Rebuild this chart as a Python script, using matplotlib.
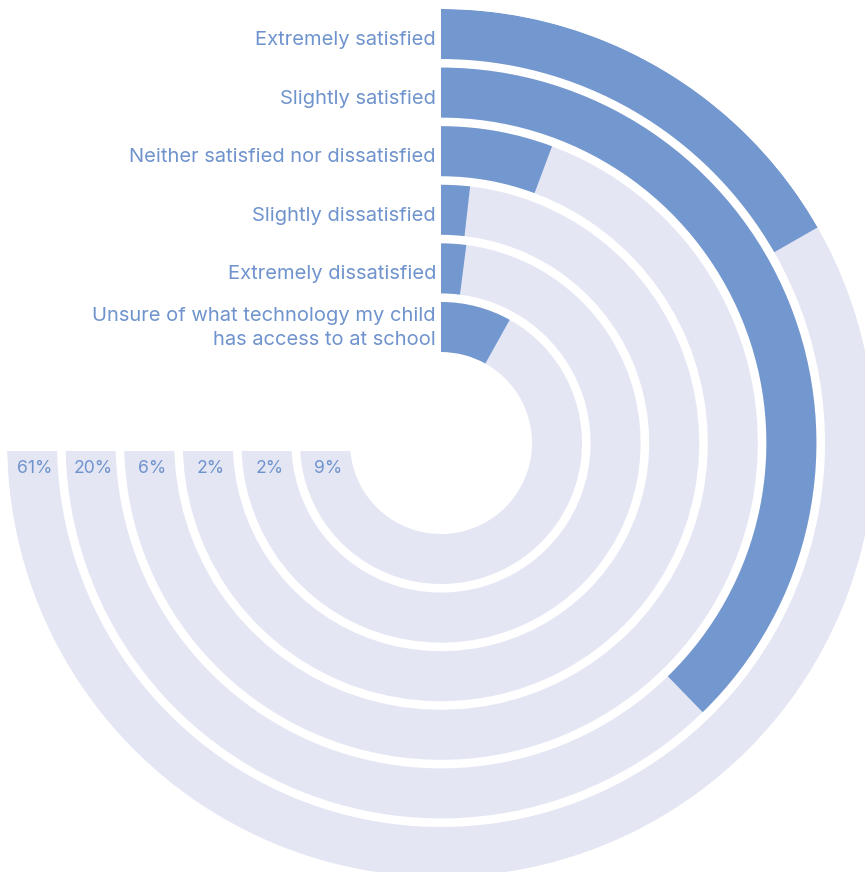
import matplotlib.pyplot as plt
import numpy as np
from matplotlib.patches import Rectangle


""" Data """
categories = ['Extremely satisfied',
              'Slightly satisfied',
              'Neither satisfied nor dissatisfied',
              'Slightly dissatisfied',
              'Extremely dissatisfied',
              'Unsure of what technology my child\nhas access to at school']
pctLabels = ['61%', '20%', '6%', '2%', '2%', '9%']
# length of each coloured arc, as share of the 270 degree track
barValues = [22.3, 50.3, 7.6, 2.4, 2.7, 10.8]
trackMax = 100


""" Style """
barColor = '#7398CF'
trackColor = '#E4E6F4'
textColor = '#6F93CD'
plt.rcParams['font.family'] = ['Inter', 'DejaVu Sans']

W, H = 865, 872
cx, cy = 441, 443          # centre in pixels (from top-left)
R = 434                    # outer radius in pixels
pitch = 58.6
ringW = 50
sweep = 1.5 * np.pi


def drawChart():
    fig = plt.figure(figsize=(W / 100, H / 100), dpi=100)
    ax = fig.add_axes([(cx - R) / W, (H - cy - R) / H, 2 * R / W, 2 * R / H],
                      projection='polar')
    ax.set_theta_zero_location('N')
    ax.set_theta_direction(-1)
    ax.set_ylim(0, R)
    ax.set_axis_off()

    for i, (cat, val, lab) in enumerate(zip(categories, barValues, pctLabels)):
        outer = R - pitch * i
        inner = outer - ringW
        mid = (outer + inner) / 2
        ax.bar(0, ringW, width=sweep, bottom=inner, align='edge',
               color=trackColor, linewidth=0)
        ax.bar(0, ringW, width=val / trackMax * sweep, bottom=inner,
               align='edge', color=barColor, linewidth=0, zorder=3)
        yoff = -1 if '\n' in cat else -6
        ax.annotate(cat, xy=(0, mid), xytext=(-5, yoff), textcoords='offset pixels',
                    ha='right', va='center', fontsize=14.5, color=textColor,
                    linespacing=1.4, annotation_clip=False)
        ax.annotate(lab, xy=(sweep, mid), xytext=(3, -25), textcoords='offset pixels',
                    ha='center', va='center', fontsize=12.7, color=textColor,
                    zorder=6, annotation_clip=False)

    # flat ends of the tracks sit a little below the centre
    fig.add_artist(Rectangle((0, (H - cy - 8) / H), (cx - 80) / W, 8 / H,
                             transform=fig.transFigure, color='white',
                             linewidth=0, zorder=5))

    fig.savefig('out.png', dpi=100)


if __name__ == '__main__':
    drawChart()
